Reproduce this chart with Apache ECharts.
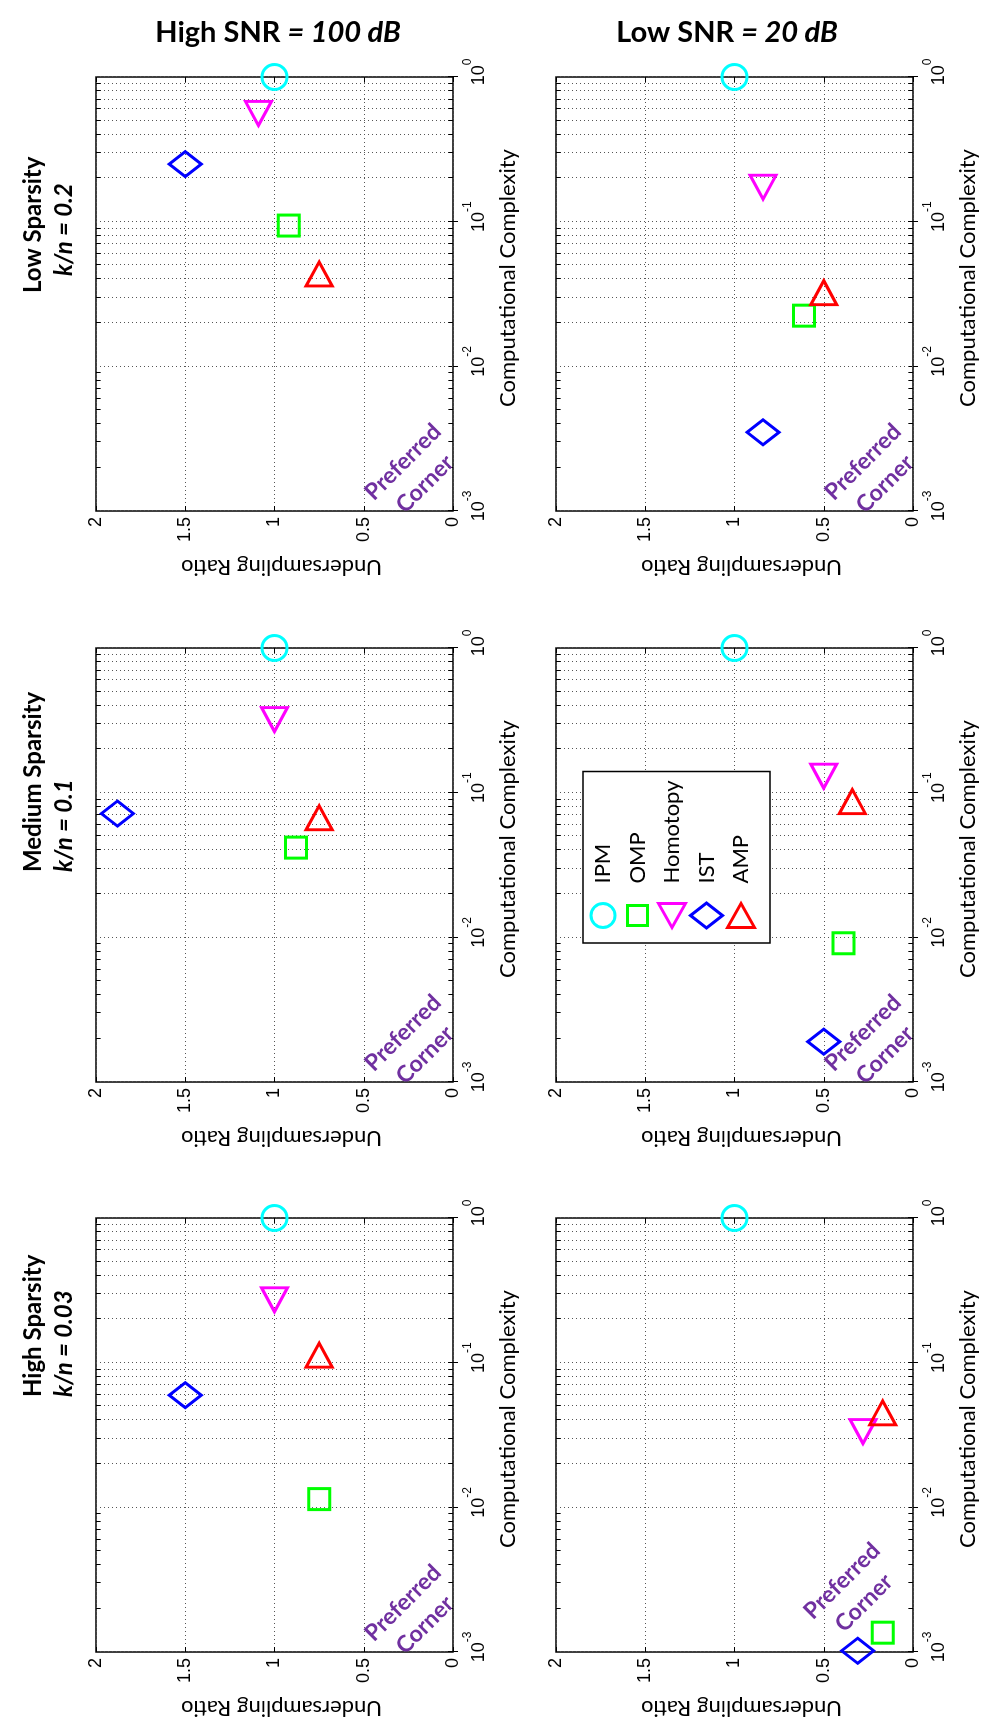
<!DOCTYPE html>
<html>
<head>
<meta charset="utf-8">
<script src="https://cdn.jsdelivr.net/npm/echarts@6/dist/echarts.min.js"></script>
<style>
  html, body { margin: 0; padding: 0; background: #fff; }
  body { width: 985px; height: 1731px; overflow: hidden; position: relative; }
  /* the figure is laid out landscape and turned a quarter turn counter-clockwise */
  #turn { position: absolute; left: 0; top: 0; width: 1731px; height: 985px;
          transform-origin: 0 0; transform: translate(0, 1731px) rotate(-90deg); }
  #chart { width: 1731px; height: 985px; }
</style>
</head>
<body>
<div id="turn"><div id="chart"></div></div>
<script>
// Algorithms compared, in legend order
const methods = ['IPM', 'OMP', 'Homotopy', 'IST', 'AMP'];
const methodColors = ['#00ffff', '#00ff00', '#ff00ff', '#0000ff', '#ff0000'];

// Row / column headings
const sparsityNames = ['Low Sparsity', 'Medium Sparsity', 'High Sparsity'];
const sparsityKn = ['0.2', '0.1', '0.03'];
const snrNames = ['High SNR', 'Low SNR'];
const snrLevels = ['100 dB', '20 dB'];

// Axis decades of the complexity axis (10^-3 .. 10^0)
const complexityDecades = [-3, -2, -1, 0];

// [undersampling ratio, computational complexity] for IPM, OMP, Homotopy, IST, AMP
const lowSparsityHighSnr    = [[1.00, 1.0], [0.92, 0.094], [1.09, 0.56], [1.50, 0.25], [0.75, 0.0435]];
const lowSparsityLowSnr     = [[1.00, 1.0], [0.61, 0.0224], [0.84, 0.173], [0.84, 0.0035], [0.50, 0.0323]];
const mediumSparsityHighSnr = [[1.00, 1.0], [0.88, 0.0417], [1.00, 0.32], [1.88, 0.0717], [0.75, 0.0671]];
const mediumSparsityLowSnr  = [[1.00, 1.0], [0.39, 0.0091], [0.50, 0.130], [0.50, 0.0019], [0.34, 0.0867]];
const highSparsityHighSnr   = [[1.00, 1.0], [0.75, 0.0114], [1.00, 0.272], [1.50, 0.0596], [0.75, 0.1127]];
const highSparsityLowSnr    = [[1.00, 1.0], [0.17, 0.00136], [0.28, 0.0334], [0.31, 0.00102], [0.17, 0.045]];

const panelValues = [
  [lowSparsityHighSnr, lowSparsityLowSnr],
  [mediumSparsityHighSnr, mediumSparsityLowSnr],
  [highSparsityHighSnr, highSparsityLowSnr]
];

// Layout in the landscape frame
const PANEL_LEFT = [1220, 649, 79];   // per sparsity row
const PANEL_TOP = [96, 556];          // per SNR column
const PANEL_W = 434, PANEL_H = 357;
const ROW_LABEL_X = [[1438, 1455], [859, 859], [334, 334]];
const TITLE_Y = [278, 727];
// "Preferred Corner" note, nudged away from the markers in the crowded panel
const NOTE_SHIFT = [[[0, 0], [0, 0]], [[0, 0], [0, 0]], [[0, 0], [22, -21]]];

const markerShapes = [
  { symbol: 'circle',   size: 25,       rotate: 0 },
  { symbol: 'rect',     size: 21,       rotate: 0 },
  { symbol: 'triangle', size: [26, 24], rotate: 90 },
  { symbol: 'diamond',  size: [25, 32], rotate: 0 },
  { symbol: 'triangle', size: [26, 24], rotate: -90 }
];

// legend glyphs drawn inside a 34 x 34 cell
const CELL = 'path://M0,0M34,34';
const legendIcons = [
  CELL + 'M29,17A12,12,0,1,1,5,17A12,12,0,1,1,29,17Z',
  CELL + 'M7,7L27,7L27,27L7,27Z',
  CELL + 'M5,17L29,3.5L29,30.5Z',
  CELL + 'M17,1L29.5,17L17,33L4.5,17Z',
  CELL + 'M29,17L5,3.5L5,30.5Z'
];

const GRID_LINE = { color: '#555', type: [1, 3], width: 1 };
const LABEL_FONT = 'Lato';
const TICK_FONT = 'Liberation Sans';
const TICK_RATIO = 0.026;   // minor tick length, in undersampling-ratio units

// minor decade positions 2..9 x 10^d
const minorValues = [];
complexityDecades.slice(0, -1).forEach(d => {
  for (let k = 2; k <= 9; k++) minorValues.push(k * Math.pow(10, d));
});
const minorLines = minorValues.map(v => ({ xAxis: v }));
const minorTicks = [];
minorValues.forEach(v => {
  minorTicks.push([{ coord: [v, 0] }, { coord: [v, TICK_RATIO] }]);
  minorTicks.push([{ coord: [v, 2] }, { coord: [v, 2 - TICK_RATIO] }]);
});

const grids = [], xAxes = [], yAxes = [], series = [], graphics = [];

const tickStyle = { show: true, inside: true, length: 5, lineStyle: { color: '#000', width: 1 } };

sparsityNames.forEach((sName, r) => {
  snrNames.forEach((cName, c) => {
    const g = grids.length;
    const left = PANEL_LEFT[r], top = PANEL_TOP[c];
    grids.push({
      left, top, width: PANEL_W, height: PANEL_H,
      show: true, borderColor: '#000', borderWidth: 1.5, backgroundColor: '#fff',
      containLabel: false, outerBoundsMode: 'none'
    });
    const ax = xAxes.length, ay = yAxes.length;
    xAxes.push({
      gridIndex: g, type: 'log', logBase: 10, min: 0.001, max: 1, position: 'bottom',
      axisLine: { show: false },
      axisTick: tickStyle,
      splitLine: { show: true, lineStyle: GRID_LINE },
      axisLabel: {
        margin: 9,
        formatter: v => '{b|10}{e|' + Math.round(Math.log10(v)) + '}',
        rich: {
          b: { fontFamily: TICK_FONT, fontSize: 18, color: '#000', lineHeight: 26, verticalAlign: 'bottom', padding: [0, 0, 0, 10] },
          e: { fontFamily: TICK_FONT, fontSize: 12, color: '#000', lineHeight: 26, verticalAlign: 'top' }
        }
      },
      name: 'Computational Complexity', nameLocation: 'middle', nameGap: 44,
      nameTextStyle: { fontFamily: LABEL_FONT, fontSize: 22, color: '#000', padding: [0, 0, 0, 32] }
    });
    // mirrored axis carrying the ticks on the opposite edge of the box
    xAxes.push({
      gridIndex: g, type: 'log', logBase: 10, min: 0.001, max: 1, position: 'top',
      axisLine: { show: false }, axisTick: tickStyle,
      splitLine: { show: false }, axisLabel: { show: false }
    });
    yAxes.push({
      gridIndex: g, type: 'value', min: 0, max: 2, interval: 0.5, position: 'left',
      axisLine: { show: false },
      axisTick: tickStyle,
      splitLine: { show: true, lineStyle: GRID_LINE },
      axisLabel: { margin: 6, fontFamily: TICK_FONT, fontSize: 18, color: '#000' },
      name: 'Undersampling Ratio', nameLocation: 'middle', nameRotate: 90, nameGap: 45,
      nameTextStyle: { fontFamily: LABEL_FONT, fontSize: 22, color: '#000', padding: [0, 14, 0, 0] }
    });
    yAxes.push({
      gridIndex: g, type: 'value', min: 0, max: 2, interval: 0.5, position: 'right',
      axisLine: { show: false }, axisTick: tickStyle,
      splitLine: { show: false }, axisLabel: { show: false }
    });
    panelValues[r][c].forEach((pt, m) => {
      const shape = markerShapes[m];
      let markLine;
      if (m === 0) {
        markLine = {
          silent: true, symbol: ['none', 'none'], z: 1, animation: false,
          label: { show: false }, emphasis: { disabled: true },
          lineStyle: GRID_LINE, data: minorLines
        };
      } else if (m === 1) {
        markLine = {
          silent: true, symbol: ['none', 'none'], z: 2, animation: false,
          label: { show: false }, emphasis: { disabled: true },
          lineStyle: { color: '#000', type: 'solid', width: 1 }, data: minorTicks
        };
      }
      series.push({
        type: 'scatter', name: methods[m], xAxisIndex: ax, yAxisIndex: ay,
        data: [[pt[1], pt[0]]],
        symbol: shape.symbol, symbolSize: shape.size, symbolRotate: shape.rotate,
        clip: false, silent: true, z: 10,
        itemStyle: { color: 'rgba(0,0,0,0)', borderColor: methodColors[m], borderWidth: 3, opacity: 1 },
        emphasis: { disabled: true },
        markLine
      });
    });
    const shift = NOTE_SHIFT[r][c];
    graphics.push({
      type: 'text', x: left + 38 + shift[0], y: top + PANEL_H - 39 + shift[1],
      rotation: -45 * Math.PI / 180, z: 20,
      style: {
        text: 'Preferred\nCorner', fill: '#7030a0', fontFamily: LABEL_FONT, fontSize: 23,
        fontWeight: 'bold', lineHeight: 31, align: 'center', verticalAlign: 'middle'
      }
    });
  });
  // sparsity heading for the row
  graphics.push({
    type: 'text', x: ROW_LABEL_X[r][0], y: 33, z: 20,
    style: { text: sName, fill: '#000', fontFamily: LABEL_FONT, fontSize: 24, fontWeight: 'bold',
             align: 'left', verticalAlign: 'middle' }
  });
  graphics.push({
    type: 'text', x: ROW_LABEL_X[r][1], y: 64, z: 20,
    style: { text: 'k/n = ' + sparsityKn[r], fill: '#000', fontFamily: LABEL_FONT, fontSize: 24,
             fontWeight: 'bold', fontStyle: 'italic', align: 'left', verticalAlign: 'middle' }
  });
});

// SNR headings over the two columns
snrNames.forEach((cName, c) => {
  graphics.push({
    type: 'text', x: 1698, y: TITLE_Y[c], rotation: -Math.PI / 2, z: 20,
    style: {
      text: '{n|' + cName + ' }{v|= ' + snrLevels[c] + '}',
      align: 'center', verticalAlign: 'middle',
      rich: {
        n: { fill: '#000', fontFamily: LABEL_FONT, fontSize: 29, fontWeight: 'bold' },
        v: { fill: '#000', fontFamily: LABEL_FONT, fontSize: 29, fontWeight: 'bold', fontStyle: 'italic' }
      }
    }
  });
});

const chart = echarts.init(document.getElementById('chart'), null, { renderer: 'canvas' });
chart.setOption({
  animation: false,
  backgroundColor: '#fff',
  grid: grids,
  xAxis: xAxes,
  yAxis: yAxes,
  legend: {
    orient: 'vertical', left: 788, top: 583, z: 50,
    data: methods.map((name, m) => ({ name, icon: legendIcons[m] })),
    selectedMode: false,
    backgroundColor: '#fff', borderColor: '#000', borderWidth: 1.5,
    padding: [1.5, 9, 10.5, 9], itemGap: -2.5, itemWidth: 34, itemHeight: 34,
    itemStyle: { borderWidth: 3 },
    textStyle: { fontFamily: LABEL_FONT, fontSize: 22, color: '#000', padding: [0, 0, 0, 10] }
  },
  tooltip: { show: false },
  series: series,
  graphic: { elements: graphics }
});
</script>
</body>
</html>
